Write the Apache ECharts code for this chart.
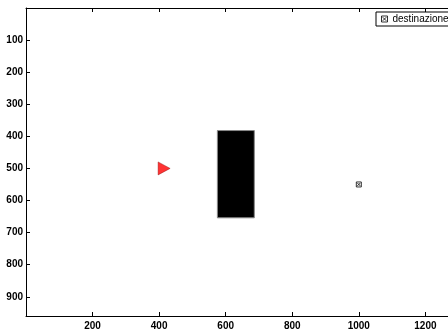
<!DOCTYPE html>
<html><head><meta charset="utf-8">
<script src="https://cdn.jsdelivr.net/npm/echarts@6/dist/echarts.min.js"></script>
<style>html,body{margin:0;padding:0;background:#fff}#c{width:448px;height:331px}</style>
</head><body><div id="c"></div>
<script>
// Data
var xRange = [0, 1280];
var yRange = [0, 960];
var xTickStep = 200;
var yTickStep = 100;
var obstacle = [[575, 382, 686, 654]]; // x1, y1, x2, y2
var robot = [[415, 500]];
var destination = [[1000, 550]];
var legendLabels = ['destinazione'];

var FONT = '"Liberation Sans", Arial, sans-serif';
function fmtX(v){ return (v !== 0 && v < xRange[1]) ? String(v) : ''; }
function fmtY(v){ return (v !== 0 && v < yRange[1]) ? String(v) : ''; }
var markPath = 'path://M0,0L10,0L10,10L0,10Z M2,2L8,8 M8,2L2,8';

var chart = echarts.init(document.getElementById('c'), null, {renderer:'canvas'});
var axisCommon = {
  axisLine:{show:true, onZero:false, lineStyle:{color:'#000', width:1}},
  axisTick:{show:true, inside:true, length:4, lineStyle:{color:'#000'}},
  splitLine:{show:false}
};
var labelStyle = {fontFamily:FONT, fontSize:10, color:'#000', fontWeight:'bold'};
chart.setOption({
  animation:false,
  backgroundColor:'#fff',
  grid:{left:26, top:8, width:426, height:308, containLabel:false, outerBoundsMode:'none'},
  legend:{
    data:[{name:legendLabels[0], icon:markPath,
      itemStyle:{color:'#fff', borderColor:'#000', borderWidth:1}}],
    left:376, top:12, orient:'horizontal',
    padding:[2,10,2,5], itemWidth:6, itemHeight:6, itemGap:4,
    borderColor:'#000', borderWidth:1, backgroundColor:'#fff',
    textStyle:{fontFamily:FONT, fontSize:10, color:'#000'}
  },
  xAxis:[
    Object.assign({type:'value', min:xRange[0], max:xRange[1], interval:xTickStep, position:'bottom',
      axisLabel:Object.assign({formatter:fmtX, margin:5}, labelStyle)}, axisCommon),
    Object.assign({type:'value', min:xRange[0], max:xRange[1], interval:xTickStep, position:'top',
      axisLabel:{show:false}}, axisCommon)
  ],
  yAxis:[
    Object.assign({type:'value', min:yRange[0], max:yRange[1], interval:yTickStep, inverse:true, position:'left',
      axisLabel:Object.assign({formatter:fmtY, margin:3}, labelStyle)}, axisCommon),
    Object.assign({type:'value', min:yRange[0], max:yRange[1], interval:yTickStep, inverse:true, position:'right',
      axisLabel:{show:false}}, axisCommon)
  ],
  series:[
    {
      type:'custom', name:'ostacolo', xAxisIndex:0, yAxisIndex:0,
      renderItem:function(params, api){
        var p1 = api.coord([api.value(0), api.value(1)]);
        var p2 = api.coord([api.value(2), api.value(3)]);
        return {type:'rect', shape:{x:Math.min(p1[0],p2[0]), y:Math.min(p1[1],p2[1]), width:Math.abs(p2[0]-p1[0]), height:Math.abs(p2[1]-p1[1])},
          style:{fill:'#000', stroke:'#888', lineWidth:1}};
      },
      encode:{x:[0,2], y:[1,3]},
      data:obstacle
    },
    {
      type:'scatter', name:'robot', symbol:'triangle', symbolRotate:-90, symbolSize:[13,12],
      itemStyle:{color:'#ff0000', borderColor:'#800', borderWidth:0.5},
      data:robot
    },
    {
      type:'scatter', name:legendLabels[0], symbol:markPath, symbolSize:5,
      itemStyle:{color:'#fff', borderColor:'#000', borderWidth:1},
      data:destination
    }
  ]
});
</script></body></html>
